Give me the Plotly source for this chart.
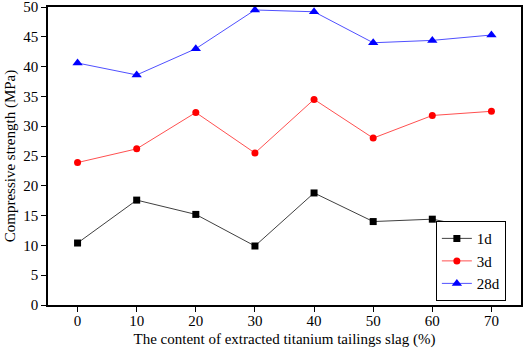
import plotly.graph_objects as go

x_content = [0, 10, 20, 30, 40, 50, 60, 70]
s_1d = [10.4, 17.6, 15.2, 9.9, 18.8, 14.0, 14.4, 12.4]
s_3d = [23.9, 26.2, 32.3, 25.5, 34.5, 28.0, 31.8, 32.5]
s_28d = [40.6, 38.6, 43.0, 49.5, 49.2, 44.0, 44.4, 45.3]

fig = go.Figure()
fig.add_trace(go.Scatter(x=x_content, y=s_1d, name="1d", mode="lines+markers",
                         line=dict(color="#404040", width=1),
                         marker=dict(symbol="square", size=7, color="black")))
fig.add_trace(go.Scatter(x=x_content, y=s_3d, name="3d", mode="lines+markers",
                         line=dict(color="#ff5050", width=1),
                         marker=dict(symbol="circle", size=7, color="red")))
fig.add_trace(go.Scatter(x=x_content, y=s_28d, name="28d", mode="lines+markers",
                         line=dict(color="#5050ff", width=1),
                         marker=dict(symbol="triangle-up", size=9, color="blue")))

axis_common = dict(showline=True, linecolor="black", linewidth=1.5, mirror=True,
                   ticks="outside", ticklen=5, tickwidth=1, tickcolor="black",
                   showgrid=False, zeroline=False, automargin=False,
                   ticklabeloverflow="allow",
                   tickfont=dict(family="Liberation Serif", size=15, color="black"))

fig.update_xaxes(range=[-5, 75], tickvals=[0, 10, 20, 30, 40, 50, 60, 70],
                 ticklabelstandoff=-4,
                 title=dict(text="The content of extracted titanium tailings slag (%)",
                            font=dict(family="Liberation Serif", size=15, color="black"),
                            standoff=6),
                 **axis_common)
fig.update_yaxes(range=[0, 50], tickvals=[0, 5, 10, 15, 20, 25, 30, 35, 40, 45, 50],
                 title=dict(text="Compressive strength (MPa)",
                            font=dict(family="Liberation Serif", size=15, color="black"),
                            standoff=4),
                 **axis_common)

fig.update_layout(width=526, height=352,
                  margin=dict(l=48, r=5, t=7, b=47),
                  paper_bgcolor="white", plot_bgcolor="white",
                  legend=dict(x=0.968, y=0.013, xanchor="right", yanchor="bottom",
                              bordercolor="black", borderwidth=1, bgcolor="white",
                              font=dict(family="Liberation Serif", size=15, color="black"),
                              tracegroupgap=0, itemwidth=30))

fig.write_html("out.html", config={"displayModeBar": False},
               post_script="document.body.style.margin='0';document.body.style.overflow='hidden';")
